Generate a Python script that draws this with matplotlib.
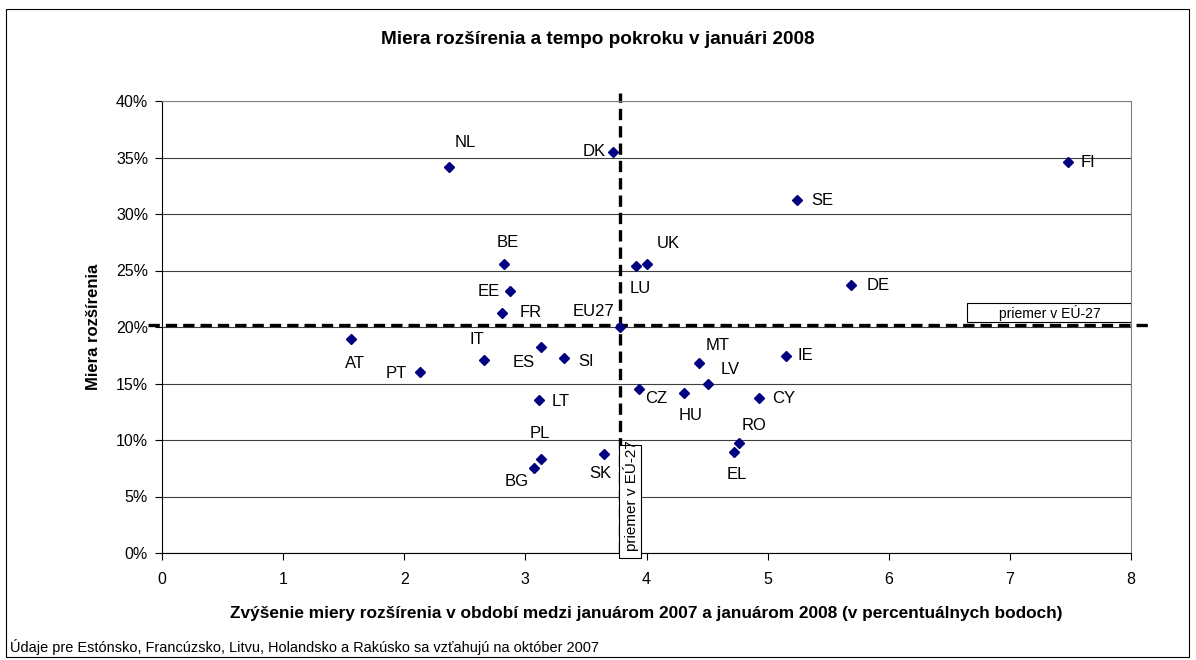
import matplotlib
matplotlib.use("Agg")
import matplotlib.pyplot as plt
from matplotlib.patches import Rectangle
from matplotlib.ticker import FuncFormatter

plt.rcParams['font.family'] = ['Liberation Sans', 'DejaVu Sans']

# data
countries = ['NL', 'DK', 'FI', 'SE', 'BE', 'UK', 'LU', 'DE', 'EE', 'FR', 'EU27',
             'AT', 'IT', 'ES', 'SI', 'PT', 'LT', 'PL', 'BG', 'SK', 'CZ', 'HU',
             'MT', 'LV', 'IE', 'CY', 'RO', 'EL']
growth = [2.37, 3.72, 7.48, 5.24, 2.82, 4.00, 3.91, 5.69, 2.87, 2.81, 3.78,
          1.56, 2.66, 3.13, 3.32, 2.13, 3.11, 3.13, 3.07, 3.65, 3.94, 4.31,
          4.43, 4.51, 5.15, 4.93, 4.76, 4.72]
rate = [34.2, 35.5, 34.6, 31.2, 25.6, 25.6, 25.4, 23.7, 23.2, 21.2, 20.0,
        18.9, 17.1, 18.2, 17.3, 16.0, 13.5, 8.3, 7.5, 8.8, 14.5, 14.2,
        16.8, 15.0, 17.4, 13.7, 9.7, 8.9]
eu_growth = 3.78
eu_rate = 20.2
x_ticks = [0, 1, 2, 3, 4, 5, 6, 7, 8]
y_ticks = [0, 5, 10, 15, 20, 25, 30, 35, 40]

# label offsets in pixels (dx, dy) from the marker
offsets = {
    'NL': (16, 24), 'DK': (-18, 0), 'FI': (20, 0), 'SE': (26, 0),
    'BE': (4, 21), 'UK': (22, 20), 'LU': (5, -23), 'DE': (27, 0),
    'EE': (-21, -1), 'FR': (28, 1), 'EU27': (-26, 15), 'AT': (4, -24),
    'IT': (-7, 20), 'ES': (-17, -15), 'SI': (22, -4), 'PT': (-24, -1),
    'LT': (22, -1), 'PL': (-1, 26), 'BG': (-17, -13), 'SK': (-4, -20),
    'CZ': (17, -9), 'HU': (7, -23), 'MT': (19, 18), 'LV': (22, 14),
    'IE': (20, 1), 'CY': (25, 0), 'RO': (16, 18), 'EL': (3, -22),
}

fig = plt.figure(figsize=(11.96, 6.6), dpi=100)
ax = fig.add_axes([162 / 1196, 1 - 553 / 660, (1131 - 162) / 1196, (553 - 101) / 660])

# outer frame
fig.patches.append(Rectangle((6 / 1196, 1 - 657 / 660), 1183 / 1196, 648 / 660,
                             transform=fig.transFigure, fill=False,
                             edgecolor='black', linewidth=0.8))

ax.set_xlim(0, 8)
ax.set_ylim(0, 40)
ax.set_xticks(x_ticks)
ax.set_yticks(y_ticks)
ax.yaxis.set_major_formatter(FuncFormatter(lambda v, p: f"{v:.0f}%"))
ax.tick_params(axis='both', direction='out', length=5, width=0.8, labelsize=11.5)
ax.tick_params(axis='x', pad=8.5)
ax.tick_params(axis='y', pad=5)
ax.grid(axis='y', color='#404040', linewidth=0.8)
ax.set_axisbelow(True)
for s in ['top', 'right']:
    ax.spines[s].set_color('#808080')
for s in ['left', 'bottom']:
    ax.spines[s].set_color('black')

ax.plot(growth, rate, linestyle='none', marker='D', markersize=5.5,
        color='#000080', zorder=3)

for c, x, y in zip(countries, growth, rate):
    dx, dy = offsets[c]
    ax.annotate(c, (x, y), xytext=(dx, dy), textcoords='offset pixels',
                ha='center', va='center', fontsize=12, zorder=4)

# EU averages
ax.plot([-0.116, 8.16], [eu_rate, eu_rate], color='black', linewidth=2.4,
        dashes=(3.4, 1.8), clip_on=False, zorder=2)
ax.plot([eu_growth, eu_growth], [0, 40.7], color='black', linewidth=2.4,
        dashes=(3.4, 1.8), clip_on=False, zorder=2)

hbox = Rectangle((6.645, 20.47), 8.0 - 6.645, 1.63, facecolor='white',
                 edgecolor='black', linewidth=0.8, zorder=5)
ax.add_patch(hbox)
ax.text(7.33, 21.25, 'priemer v EÚ-27', ha='center', va='center', fontsize=10,
        zorder=6)

vbox = Rectangle((3.776, -0.42), 0.177, 9.98, facecolor='white', edgecolor='black',
                 linewidth=0.8, clip_on=False, zorder=5)
ax.add_patch(vbox)
t = ax.text(3.87, 0.2, 'priemer v EÚ-27', rotation=90, ha='center', va='bottom',
            fontsize=11, zorder=6)
t.set_clip_path(vbox)

fig.text(0.5, 1 - 40 / 660, 'Miera rozšírenia a tempo pokroku v januári 2008',
         ha='center', va='center', fontsize=13.7, fontweight='bold')
ax.set_xlabel('Zvýšenie miery rozšírenia v období medzi januárom 2007 a januárom 2008 '
              '(v percentuálnych bodoch)', fontsize=12.4, fontweight='bold', labelpad=14)
ax.set_ylabel('Miera rozšírenia', fontsize=12, fontweight='bold', labelpad=11)

fig.text(10 / 1196, 1 - 647 / 660, 'Údaje pre Estónsko, Francúzsko, Litvu, Holandsko '
         'a Rakúsko sa vzťahujú na október 2007', fontsize=10.45, va='center')

fig.savefig('out.png', dpi=100)
